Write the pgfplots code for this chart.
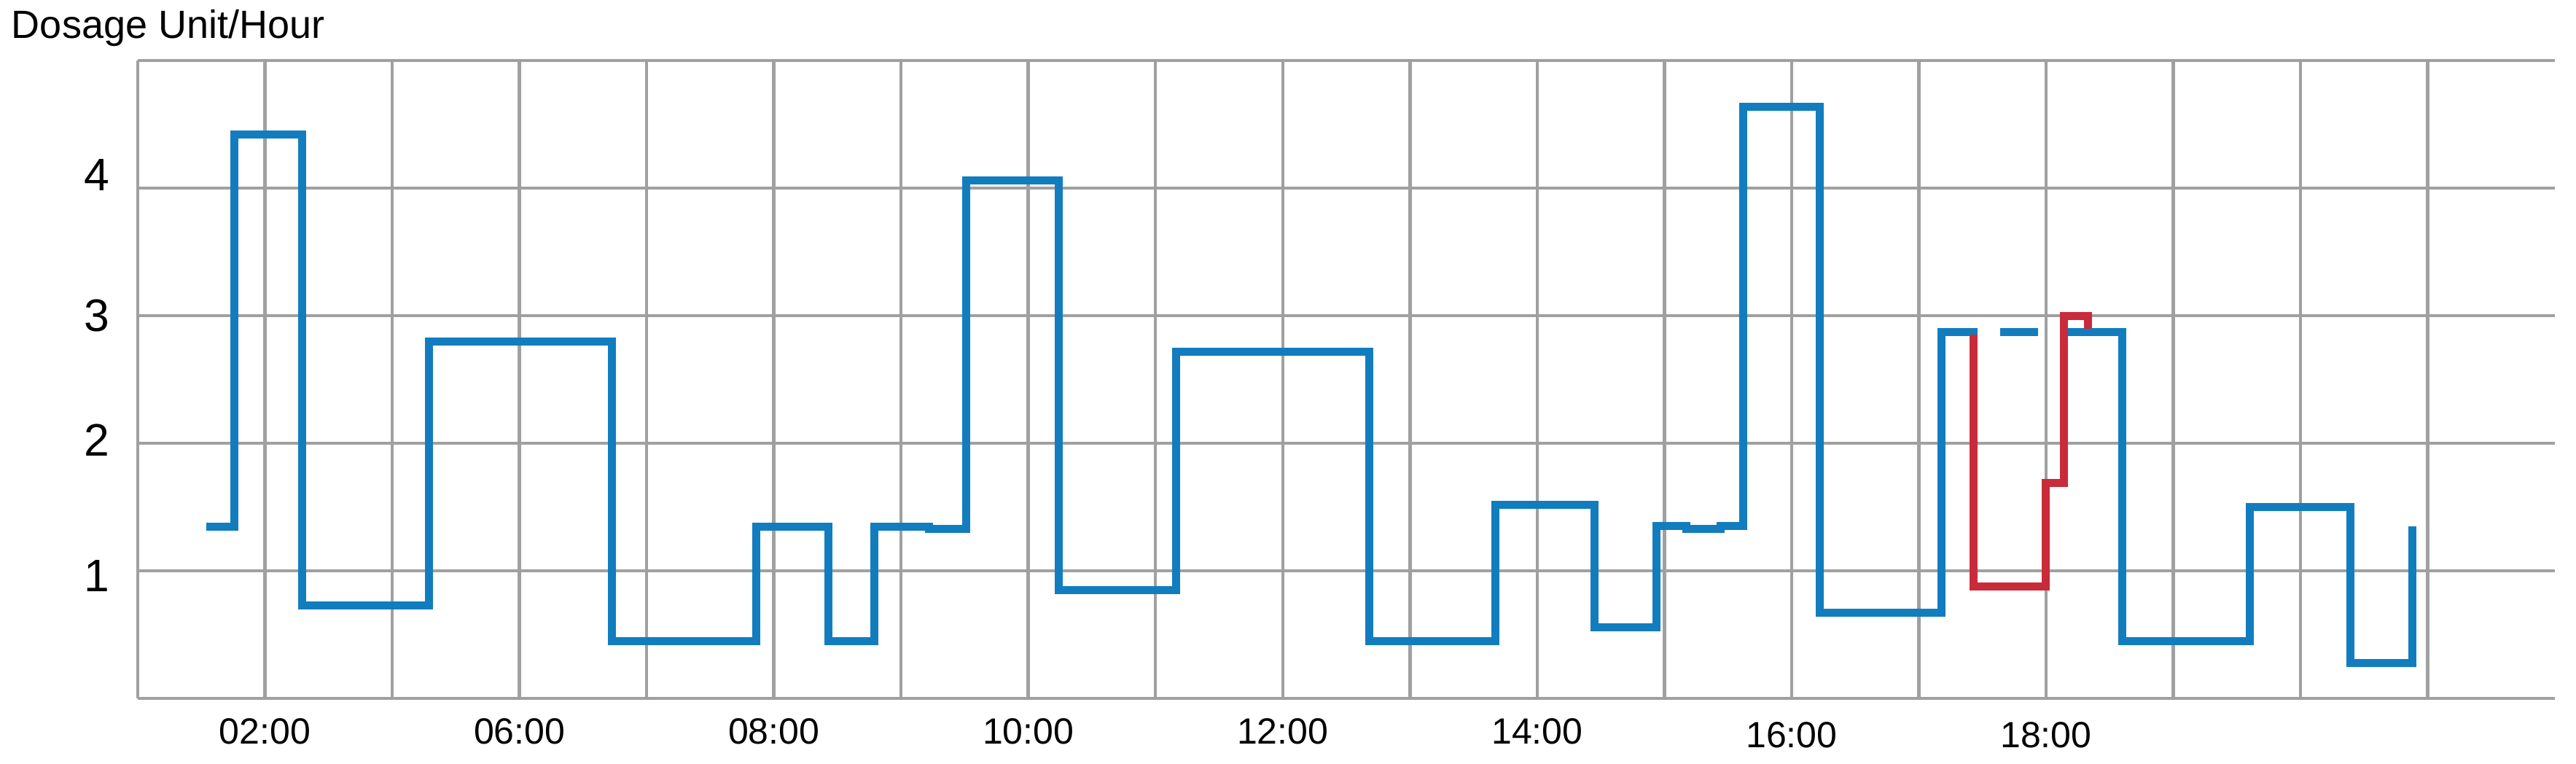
\documentclass[border=0pt]{standalone}
\usepackage{pgfplots}
\pgfplotsset{compat=1.18}
\usepackage{fontspec}
\setmainfont{Liberation Sans}
\definecolor{blueline}{HTML}{127DBE}
\definecolor{redline}{HTML}{C92B3B}
\definecolor{gridgray}{HTML}{A0A0A0}
\begin{document}
\begin{tikzpicture}
\useasboundingbox (-37.8pt,-17.8pt) rectangle (669pt,191.6pt);
\begin{axis}[
  at={(0,0)}, anchor=south west, scale only axis,
  width=663.2pt, height=175pt,
  xmin=0, xmax=19, ymin=0, ymax=5,
  axis line style={draw=none},
  xtick={0,...,18},
  xticklabels={,02:00,,06:00,,08:00,,10:00,,12:00,,14:00,,{\raisebox{-1pt}[\height][\depth]{16:00}},,{\raisebox{-1pt}[\height][\depth]{18:00}},,,},
  ytick={0,...,5},
  yticklabels={,{\raisebox{-1.3pt}[\height][\depth]{1}},{\raisebox{0.8pt}[\height][\depth]{2}},3,{\raisebox{3.7pt}[\height][\depth]{4}},},
  major tick length=0pt,
  grid=major,
  major grid style={gridgray, line width=0.9pt},
  xticklabel style={font=\fontsize{10}{12}\selectfont, inner sep=0pt, anchor=north, yshift=-5.4pt},
  yticklabel style={font=\fontsize{12.5}{14}\selectfont, inner sep=0pt, anchor=east, xshift=-7.6pt},
  clip=false,
]
\addplot[blueline, line width=2.2pt, line join=miter] coordinates {
 (0.54,1.346) (0.76,1.346) (0.76,4.42) (1.29,4.42) (1.29,0.727) (2.29,0.727) (2.29,2.80)
 (3.73,2.80) (3.73,0.45) (4.86,0.45) (4.86,1.346) (5.43,1.346) (5.43,0.45) (5.79,0.45)
 (5.79,1.346) (6.22,1.346) (6.22,1.326) (6.51,1.326) (6.51,4.06) (7.24,4.06) (7.24,0.85)
 (8.16,0.85) (8.16,2.72) (9.68,2.72) (9.68,0.45) (10.67,0.45) (10.67,1.52) (11.45,1.52)
 (11.45,0.56) (11.94,0.56) (11.94,1.35) (12.17,1.35) (12.17,1.33) (12.44,1.33) (12.44,1.35)
 (12.62,1.35) (12.62,4.64) (13.22,4.64) (13.22,0.67) (14.18,0.67) (14.18,2.87) (14.46,2.87)
};
\addplot[blueline, line width=2.2pt] coordinates {(14.64,2.87) (14.94,2.87)};
\addplot[blueline, line width=2.2pt, line join=miter] coordinates {
 (15.11,2.87) (15.60,2.87) (15.60,0.45) (16.60,0.45) (16.60,1.50) (17.39,1.50) (17.39,0.28)
 (17.88,0.28) (17.88,1.35)
};
\addplot[redline, line width=2.2pt, line join=miter] coordinates {
 (14.43,2.85) (14.43,0.88) (15.00,0.88) (15.00,1.69) (15.14,1.69) (15.14,3.00) (15.33,3.00) (15.33,2.90)
};
\end{axis}
\node[anchor=base west, inner sep=0pt, font=\fontsize{10.8}{13}\selectfont] at (-34.8pt,181pt) {Dosage Unit/Hour};
\end{tikzpicture}
\end{document}
